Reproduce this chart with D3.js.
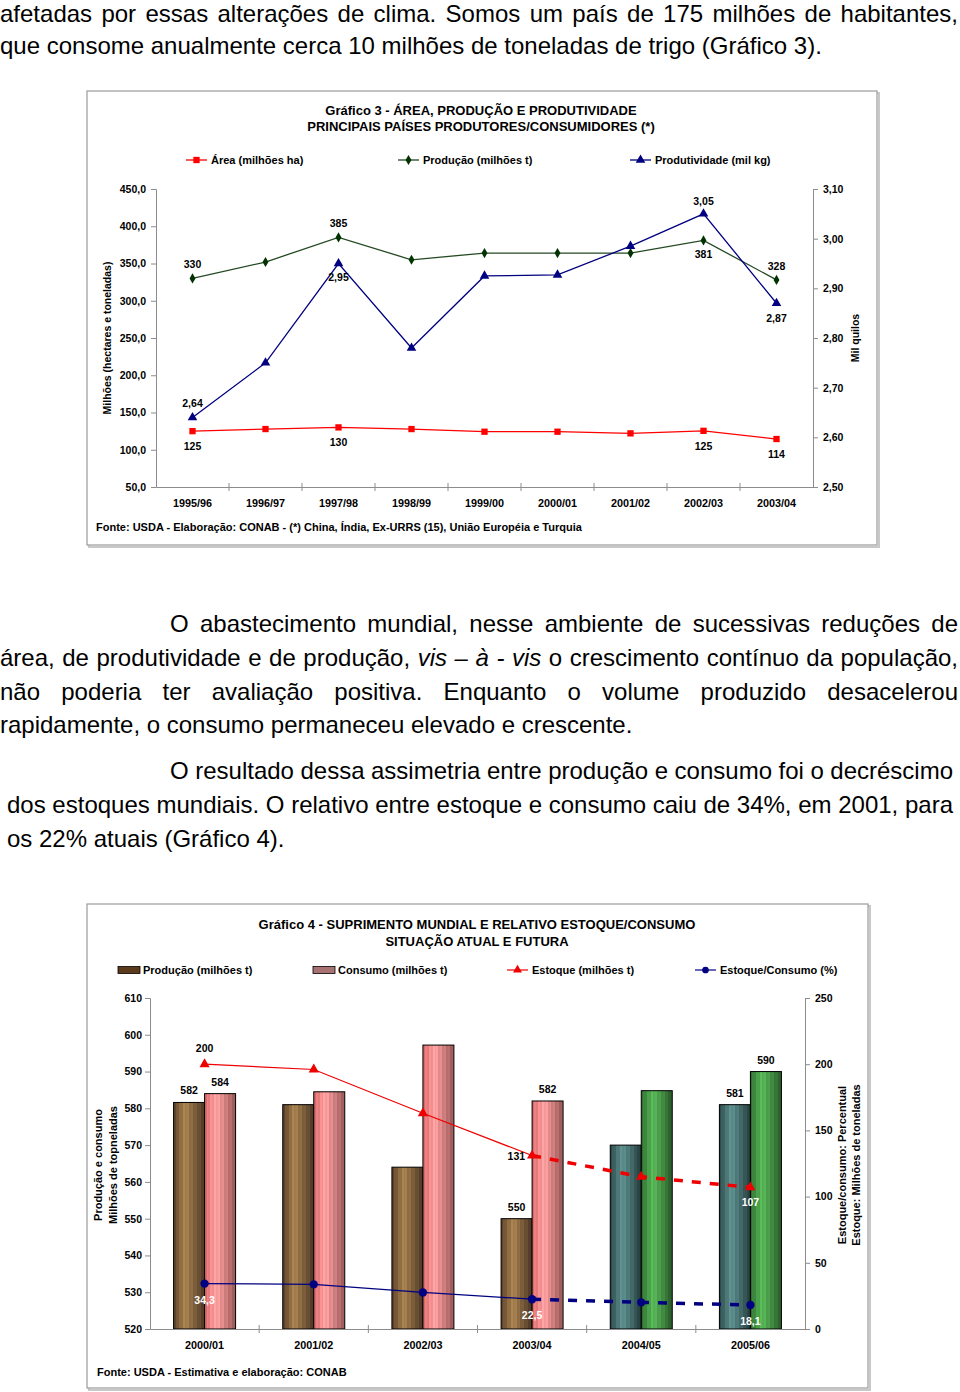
<!DOCTYPE html>
<html><head><meta charset="utf-8">
<script src="https://cdn.jsdelivr.net/npm/d3@7"></script>
<style>body{margin:0;background:#fff}svg{display:block}</style>
</head><body>
<svg id="c" width="960" height="1392"></svg>
<script>
// ===== Chart 3 data =====
const cats3 = ["1995/96","1996/97","1997/98","1998/99","1999/00","2000/01","2001/02","2002/03","2003/04"];
const area3 = [125,127.8,130,127.8,124.2,124.2,122,125.4,114.4];
const prod3 = [330,352,385,355,364,364,364,381,328];
const produt3 = [2.64,2.75,2.95,2.78,2.925,2.927,2.985,3.05,2.87];
const leftTicks3 = [50,100,150,200,250,300,350,400,450];
const rightTicks3 = [2.5,2.6,2.7,2.8,2.9,3.0,3.1];
const labelIdx3 = [0,2,7,8];
const legend3 = ["Área (milhões ha)","Produção (milhões t)","Produtividade (mil kg)"];

// ===== Chart 4 data =====
const cats4 = ["2000/01","2001/02","2002/03","2003/04","2004/05","2005/06"];
const prod4 = [581.6,581,564,550,570,581];
const cons4 = [584,584.5,597.2,582,584.8,590];
const estoque4 = [200,196,163,131,115,107];
const relativo4 = [34.3,33.7,27.6,22.5,20.1,18.1];
const leftTicks4 = [520,530,540,550,560,570,580,590,600,610];
const rightTicks4 = [0,50,100,150,200,250];
const labelIdx4 = [0,3,5];
const legend4 = ["Produção (milhões t)","Consumo (milhões t)","Estoque (milhões t)","Estoque/Consumo (%)"];

const svg = d3.select("#c");
svg.append("rect").attr("width",960).attr("height",1392).attr("fill","#fff");
const defs = svg.append("defs");
const FONT = "'Liberation Sans', Arial, Helvetica, sans-serif";
const comma = (f) => (v) => d3.format(f)(v).replace(".", ",");

// ===== Body text =====
const bodyLines = [
  {y:22, x0:0, x1:958, j:true, s:"afetadas por essas alterações de clima. Somos um país de 175 milhões de habitantes,"},
  {y:54, x0:0, j:false, s:"que consome anualmente cerca 10 milhões de toneladas de trigo (Gráfico 3)."},
  {y:632, x0:170, x1:958, j:true, s:"O abastecimento mundial, nesse ambiente de sucessivas reduções de"},
  {y:666, x0:0, x1:958, j:true, s:"área, de produtividade e de produção, *vis* *–* *à* *-* *vis* o crescimento contínuo da população,"},
  {y:700, x0:0, x1:958, j:true, s:"não poderia ter avaliação positiva. Enquanto o volume produzido desacelerou"},
  {y:733, x0:0, j:false, s:"rapidamente, o consumo permaneceu elevado e crescente."},
  {y:779, x0:170, x1:953, j:true, s:"O resultado dessa assimetria entre produção e consumo foi o decréscimo"},
  {y:813, x0:7, x1:953, j:true, s:"dos estoques mundiais. O relativo entre estoque e consumo caiu de 34%, em 2001, para"},
  {y:847, x0:7, j:false, s:"os 22% atuais (Gráfico 4)."}
];
const bodyG = svg.append("g").attr("font-family", FONT).attr("font-size", 24).attr("fill","#000");
bodyLines.forEach(L => {
  if (!L.j) {
    bodyG.append("text").attr("x", L.x0).attr("y", L.y).text(L.s);
    return;
  }
  const words = L.s.split(" ").map(w => {
    const it = w.startsWith("*") && w.endsWith("*");
    return {t: it ? w.slice(1,-1) : w, it};
  });
  const lg = bodyG.append("g");
  const nodes = words.map(w => lg.append("text").attr("y", L.y)
      .attr("font-style", w.it ? "italic" : null).text(w.t));
  const widths = nodes.map(n => n.node().getComputedTextLength());
  const total = d3.sum(widths);
  let gap = (L.x1 - L.x0 - total) / (words.length - 1);
  let scale = 1;
  if (gap < 4) {
    gap = 4;
    scale = (L.x1 - L.x0 - gap * (words.length - 1)) / total;
  }
  let x = L.x0;
  nodes.forEach((n,i) => {
    n.attr("x", x / scale);
    x += widths[i] * scale + gap;
  });
  if (scale !== 1) lg.attr("transform", `scale(${scale},1)`);
});

// ===== helpers =====
function box(x, y, w, h) {
  svg.append("rect").attr("x", x+2).attr("y", y+2).attr("width", w).attr("height", h)
    .attr("fill","none").attr("stroke","#c8c8c8").attr("stroke-width",2);
  svg.append("rect").attr("x", x).attr("y", y).attr("width", w).attr("height", h)
    .attr("fill","#fff").attr("stroke","#9a9a9a").attr("stroke-width",1.2);
}
function styleAxis(g, size) {
  g.select(".domain").attr("stroke","#8c8c8c");
  g.selectAll(".tick line").attr("stroke","#8c8c8c");
  g.selectAll(".tick text").attr("font-family", FONT).attr("font-size", size || 10)
    .attr("font-weight","bold").attr("fill","#000");
}
function txt(g, x, y, s, opt={}) {
  return g.append("text").attr("x", x).attr("y", y)
    .attr("font-family", FONT).attr("font-size", opt.size || 10)
    .attr("font-weight", "bold").attr("fill", opt.fill || "#000")
    .attr("text-anchor", opt.anchor || "middle")
    .attr("transform", opt.rot ? `rotate(-90,${x},${y})` : null)
    .text(s);
}

// ===================== CHART 3 =====================
box(87, 91, 790, 454);
const g3 = svg.append("g");
const x3 = d3.scaleBand().domain(cats3).range([156, 813]);
const cx3 = c => x3(c) + x3.bandwidth()/2;
const yL3 = d3.scaleLinear().domain([50, 450]).range([487, 189]);
const yR3 = d3.scaleLinear().domain([2.5, 3.1]).range([487, 189]);

txt(g3, 481, 115, "Gráfico 3 - ÁREA, PRODUÇÃO E PRODUTIVIDADE", {size:13});
txt(g3, 481, 131, "PRINCIPAIS PAÍSES PRODUTORES/CONSUMIDORES (*)", {size:13});

g3.append("g").attr("transform","translate(156,0)")
  .call(d3.axisLeft(yL3).tickValues(leftTicks3).tickFormat(comma(".1f")).tickSize(5).tickPadding(5))
  .call(g => styleAxis(g, 10.5));
g3.append("g").attr("transform","translate(813,0)")
  .call(d3.axisRight(yR3).tickValues(rightTicks3).tickFormat(comma(".2f")).tickSize(5).tickPadding(5))
  .call(g => styleAxis(g, 10.5));
const xa3 = g3.append("g").attr("transform","translate(0,487)")
  .call(d3.axisBottom(x3).tickSize(0)).call(g => styleAxis(g, 10.8));
xa3.selectAll(".tick text").attr("y",12);
g3.selectAll(null).data(cats3.slice(1).map(c => x3(c)))
  .enter().append("line").attr("x1",d=>d).attr("x2",d=>d).attr("y1",483).attr("y2",491)
  .attr("stroke","#8c8c8c");

txt(g3, 111, 338, "Milhões (hectares e toneladas)", {rot:true, size:10.5});
txt(g3, 859, 338, "Mil quilos", {rot:true, size:10.5});

const series3 = [
  {vals: area3, y: yL3, color:"#ff0000", mk:"square", fmt: d3.format(".0f")},
  {vals: prod3, y: yL3, color:"#244a24", mk:"diamond", fmt: d3.format(".0f")},
  {vals: produt3, y: yR3, color:"#000080", mk:"triangle", fmt: comma(".2f")}
];
const sym = {square: d3.symbolSquare, diamond: d3.symbolDiamond, triangle: d3.symbolTriangle, circle: d3.symbolCircle};
const mkSize = {square: 40, diamond: 30, triangle: 40, circle: 50};
const mkFill = ["#ff0000","#003300","#000080"];
series3.forEach((s, si) => {
  const line = d3.line().x((d,i) => cx3(cats3[i])).y(d => s.y(d));
  g3.append("path").attr("d", line(s.vals)).attr("fill","none").attr("stroke", s.color).attr("stroke-width",1.3);
  g3.selectAll(null).data(s.vals).enter().append("path")
    .attr("transform",(d,i)=>`translate(${cx3(cats3[i])},${s.y(d)})`)
    .attr("d", d3.symbol().type(sym[s.mk]).size(mkSize[s.mk]))
    .attr("fill", mkFill[si]);
});
const off3 = [
  [19, 19, 19, 19],
  [-10, -10, 18, -10],
  [-10, 17, -9, 19]
];
series3.forEach((s, si) => {
  labelIdx3.forEach((idx, k) => {
    txt(g3, cx3(cats3[idx]), s.y(s.vals[idx]) + off3[si][k], s.fmt(s.vals[idx]), {size:10.5});
  });
});

const leg3x = [186, 398, 630];
legend3.forEach((l, i) => {
  const lx = leg3x[i];
  g3.append("line").attr("x1", lx).attr("x2", lx+21).attr("y1",160).attr("y2",160)
    .attr("stroke", series3[i].color).attr("stroke-width",1.3);
  g3.append("path").attr("transform",`translate(${lx+10.5},160)`)
    .attr("d", d3.symbol().type(sym[series3[i].mk]).size(mkSize[series3[i].mk])).attr("fill", mkFill[i]);
  txt(g3, lx+25, 164, l, {anchor:"start", size:11});
});
txt(g3, 96, 531, "Fonte: USDA - Elaboração: CONAB - (*) China, Índia, Ex-URRS (15), União Européia e Turquia", {anchor:"start", size:11});

// ===================== CHART 4 =====================
box(87, 904, 781, 484);
const g4 = svg.append("g");
const x4 = d3.scaleBand().domain(cats4).range([150, 805]);
const cx4 = c => x4(c) + x4.bandwidth()/2;
const yL4 = d3.scaleLinear().domain([520, 610]).range([1329, 998]);
const yR4 = d3.scaleLinear().domain([0, 250]).range([1329, 998]);
const barW = 31;

txt(g4, 477, 929, "Gráfico 4 - SUPRIMENTO MUNDIAL E RELATIVO ESTOQUE/CONSUMO", {size:13});
txt(g4, 477, 946, "SITUAÇÃO ATUAL E FUTURA", {size:13});

function stripeGrad(id, dark, light, edge) {
  const gr = defs.append("linearGradient").attr("id", id)
    .attr("x1",0).attr("x2",1).attr("y1",0).attr("y2",0);
  const prof = t => t < 0.38 ? d3.interpolateRgb(dark, light)(t/0.38)
                             : d3.interpolateRgb(light, edge)((t-0.38)/0.62);
  const N = 16;
  for (let i = 0; i < N; i++) {
    const t0 = i/N, t1 = (i+1)/N;
    let c = d3.color(prof((t0+t1)/2));
    c = (i % 2) ? c.brighter(0.18) : c.darker(0.08);
    gr.append("stop").attr("offset", t0).attr("stop-color", c);
    gr.append("stop").attr("offset", t1).attr("stop-color", c);
  }
}
stripeGrad("gBrown", "#5a4029", "#a9824f", "#4a3624");
stripeGrad("gPink", "#d86a6a", "#ffa0a0", "#955555");
stripeGrad("gTeal", "#2a4646", "#5f9090", "#233b3b");
stripeGrad("gGreen", "#2d6a2d", "#58b858", "#285628");
const prodFill = cats4.map((c,i) => i < 4 ? "url(#gBrown)" : "url(#gTeal)");
const consFill = cats4.map((c,i) => i < 4 ? "url(#gPink)" : "url(#gGreen)");

g4.append("g").attr("transform","translate(150,0)")
  .call(d3.axisLeft(yL4).tickValues(leftTicks4).tickFormat(d3.format("d")).tickSize(5).tickPadding(3))
  .call(g => styleAxis(g, 10.5));
g4.append("g").attr("transform","translate(805,0)")
  .call(d3.axisRight(yR4).tickValues(rightTicks4).tickFormat(d3.format("d")).tickSize(5).tickPadding(5))
  .call(g => styleAxis(g, 10.5));

g4.selectAll(".bp").data(prod4).enter().append("rect")
  .attr("x",(d,i)=>cx4(cats4[i]) - barW).attr("y", d => yL4(d))
  .attr("width", barW).attr("height", d => yL4(520) - yL4(d))
  .attr("fill",(d,i)=>prodFill[i]).attr("stroke","#000").attr("stroke-width",1);
g4.selectAll(".bc").data(cons4).enter().append("rect")
  .attr("x",(d,i)=>cx4(cats4[i])).attr("y", d => yL4(d))
  .attr("width", barW).attr("height", d => yL4(520) - yL4(d))
  .attr("fill",(d,i)=>consFill[i]).attr("stroke","#000").attr("stroke-width",1);

const xa4 = g4.append("g").attr("transform","translate(0,1329)")
  .call(d3.axisBottom(x4).tickSize(0)).call(g => styleAxis(g, 10.8));
xa4.selectAll(".tick text").attr("y",12);
g4.selectAll(null).data(cats4.slice(1).map(c => x4(c)))
  .enter().append("line").attr("x1",d=>d).attr("x2",d=>d).attr("y1",1325).attr("y2",1333)
  .attr("stroke","#8c8c8c");

function drawLine4(vals, color, mk) {
  const pts = vals.map((v,i) => [cx4(cats4[i]), yR4(v)]);
  const line = d3.line();
  g4.append("path").attr("d", line(pts.slice(0,4))).attr("fill","none")
    .attr("stroke", color).attr("stroke-width", 1.2);
  g4.append("path").attr("d", line(pts.slice(3))).attr("fill","none")
    .attr("stroke", color).attr("stroke-width", 3.5).attr("stroke-dasharray","9,9");
  g4.selectAll(null).data(pts).enter().append("path")
    .attr("transform", d => `translate(${d[0]},${d[1]})`)
    .attr("d", d3.symbol().type(sym[mk]).size(mk === "circle" ? 55 : 45)).attr("fill", color);
}
drawLine4(estoque4, "#ee0000", "triangle");
drawLine4(relativo4, "#000080", "circle");

labelIdx4.forEach(i => {
  const c = cats4[i];
  txt(g4, cx4(c) - barW/2, yL4(prod4[i]) - 8, d3.format(".0f")(prod4[i]), {size:10.5});
  txt(g4, cx4(c) + barW/2, yL4(cons4[i]) - 8, d3.format(".0f")(cons4[i]), {size:10.5});
});
const estOff = [[0,-12,"middle"],[-7,4,"end"],[0,19,"middle"]];
labelIdx4.forEach((i,k) => {
  const o = estOff[k];
  txt(g4, cx4(cats4[i]) + o[0], yR4(estoque4[i]) + o[1], d3.format(".0f")(estoque4[i]),
      {anchor:o[2], fill: k === 2 ? "#fff" : "#000", size:10.5});
  txt(g4, cx4(cats4[i]), yR4(relativo4[i]) + 20, comma(".1f")(relativo4[i]), {fill:"#fff", size:10.5});
});

txt(g4, 102, 1165, "Produção e consumo", {rot:true, size:11});
txt(g4, 117, 1165, "Milhões de topneladas", {rot:true, size:11});
txt(g4, 846, 1165, "Estoque/consumo: Percentual", {rot:true, size:11});
txt(g4, 860, 1165, "Estoque: Milhões de toneladas", {rot:true, size:11});

const leg4x = [118, 313, 507, 695];
const legFill = ["#5c3a1c", "#a87272"];
legend4.forEach((l, i) => {
  const lx = leg4x[i];
  if (i < 2) {
    g4.append("rect").attr("x", lx).attr("y", 966.5).attr("width", 22).attr("height", 7)
      .attr("fill", legFill[i]).attr("stroke","#000").attr("stroke-width",0.8);
  } else {
    const col = i === 2 ? "#ee0000" : "#000080";
    const mk = i === 2 ? "triangle" : "circle";
    g4.append("line").attr("x1", lx).attr("x2", lx+21).attr("y1",970).attr("y2",970)
      .attr("stroke", col).attr("stroke-width",1.2);
    g4.append("path").attr("transform",`translate(${lx+10.5},970)`)
      .attr("d", d3.symbol().type(sym[mk]).size(35)).attr("fill", col);
  }
  txt(g4, lx+25, 974, l, {anchor:"start", size:11});
});
txt(g4, 97, 1376, "Fonte: USDA - Estimativa e elaboração: CONAB", {anchor:"start", size:11});
</script>
</body></html>
